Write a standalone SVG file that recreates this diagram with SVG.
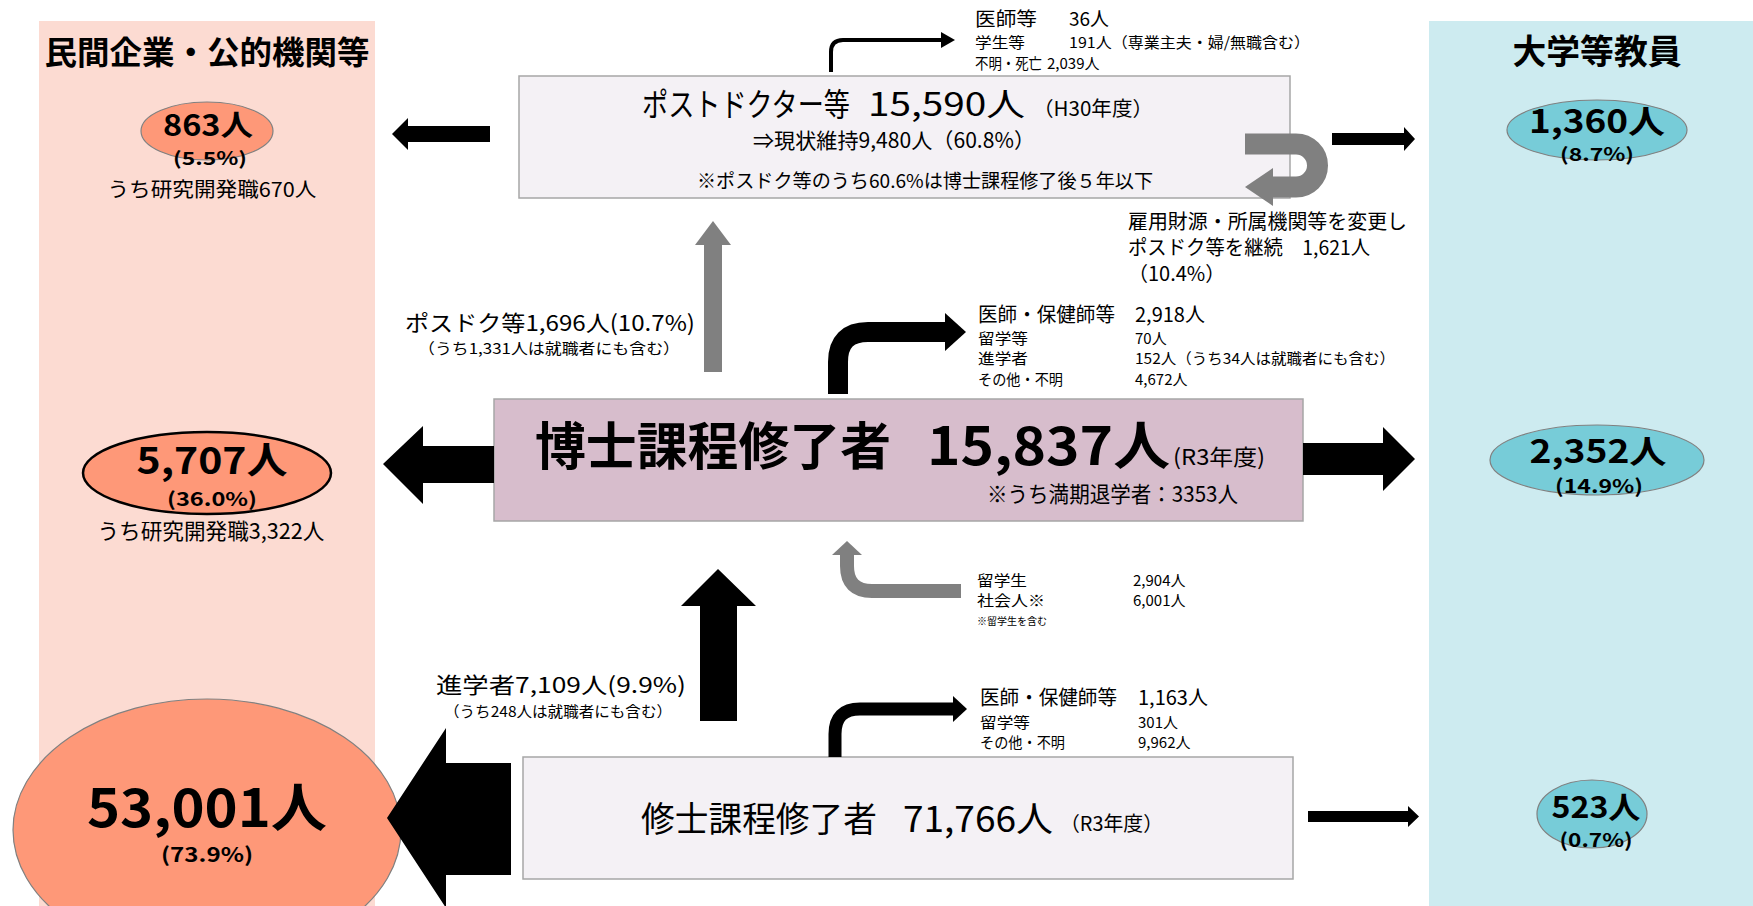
<svg xmlns="http://www.w3.org/2000/svg" width="1753" height="906" viewBox="0 0 1753 906">
<style>
text{font-family:"Noto Sans CJK JP","Noto Sans",sans-serif;fill:#000}
.b{font-weight:bold}
.m{text-anchor:middle}
.box{fill:#f4f1f5;stroke:#a6a6a6;stroke-width:1.5}
.boxd{fill:#d7bdcc;stroke:#a6a6a6;stroke-width:1.5}
.sal{fill:#fe9878;stroke:#808080;stroke-width:1.2}
.teal{fill:#77ccd8;stroke:#808080;stroke-width:1.2}
.blk{fill:#000}
.gry{fill:#808080}
.lnk{fill:none;stroke:#000}
.lng{fill:none;stroke:#808080}
</style>

<g id="bands">
<rect x="39" y="21" width="336" height="885" fill="#fcdbd2"/>
<rect x="1429" y="21" width="324" height="885" fill="#cdebf0"/>
<text class="b m" x="207" y="64" font-size="32" textLength="325" lengthAdjust="spacingAndGlyphs">民間企業・公的機関等</text>
<text class="b m" x="1597" y="64" font-size="34" textLength="169" lengthAdjust="spacingAndGlyphs">大学等教員</text>
</g>

<g id="node-private-postdoc">
<ellipse class="sal" cx="207" cy="131" rx="66" ry="29"/>
<text class="b m" x="208" y="136" font-size="29" textLength="90" lengthAdjust="spacingAndGlyphs">863人</text>
<text class="b m" x="210" y="165" font-size="18" textLength="74" lengthAdjust="spacingAndGlyphs">(5.5%)</text>
<text class="m" x="212" y="197" font-size="20" textLength="209" lengthAdjust="spacingAndGlyphs">うち研究開発職670人</text>
</g>

<g id="node-private-doctor">
<ellipse cx="207" cy="473" rx="124" ry="41" fill="#fe9878" stroke="#000" stroke-width="2.5"/>
<text class="b m" x="212" y="474" font-size="37" textLength="151" lengthAdjust="spacingAndGlyphs">5,707人</text>
<text class="b m" x="212" y="506" font-size="19" textLength="90" lengthAdjust="spacingAndGlyphs">(36.0%)</text>
<text class="m" x="211" y="539" font-size="22" textLength="227" lengthAdjust="spacingAndGlyphs">うち研究開発職3,322人</text>
</g>

<g id="node-private-master">
<ellipse class="sal" cx="207" cy="830" rx="194" ry="131"/>
<text class="b m" x="207" y="827" font-size="52" textLength="240" lengthAdjust="spacingAndGlyphs">53,001人</text>
<text class="b m" x="207" y="862" font-size="20" textLength="92" lengthAdjust="spacingAndGlyphs">(73.9%)</text>
</g>

<g id="node-univ-postdoc">
<ellipse class="teal" cx="1597" cy="130" rx="90" ry="30"/>
<text class="b m" x="1597" y="133" font-size="32" textLength="136" lengthAdjust="spacingAndGlyphs">1,360人</text>
<text class="b m" x="1597" y="161" font-size="18" textLength="74" lengthAdjust="spacingAndGlyphs">(8.7%)</text>
</g>

<g id="node-univ-doctor">
<ellipse class="teal" cx="1597" cy="460" rx="107" ry="35"/>
<text class="b m" x="1598" y="463" font-size="32" textLength="137" lengthAdjust="spacingAndGlyphs">2,352人</text>
<text class="b m" x="1599" y="493" font-size="19" textLength="88" lengthAdjust="spacingAndGlyphs">(14.9%)</text>
</g>

<g id="node-univ-master">
<ellipse class="teal" cx="1592" cy="814" rx="55" ry="34"/>
<text class="b m" x="1596" y="818" font-size="30" textLength="89" lengthAdjust="spacingAndGlyphs">523人</text>
<text class="b m" x="1596" y="847" font-size="19" textLength="73" lengthAdjust="spacingAndGlyphs">(0.7%)</text>
</g>

<g id="node-postdoc">
<rect class="box" x="519" y="76" width="771" height="122"/>
<text x="642" y="116" font-size="32" textLength="208" lengthAdjust="spacingAndGlyphs">ポストドクター等</text>
<text x="868" y="116" font-size="32" textLength="157" lengthAdjust="spacingAndGlyphs">15,590人</text>
<text x="1033" y="116" font-size="20" textLength="120" lengthAdjust="spacingAndGlyphs">（H30年度）</text>
<text x="753" y="148" font-size="21" textLength="282" lengthAdjust="spacingAndGlyphs">⇒現状維持9,480人（60.8%）</text>
<text x="697" y="188" font-size="19" textLength="456" lengthAdjust="spacingAndGlyphs">※ポスドク等のうち60.6%は博士課程修了後５年以下</text>
</g>

<g id="node-postdoc-other">
<text x="975" y="26" font-size="19" textLength="62" lengthAdjust="spacingAndGlyphs">医師等</text>
<text x="1069" y="26" font-size="19">36人</text>
<text x="975" y="48" font-size="15" textLength="50" lengthAdjust="spacingAndGlyphs">学生等</text>
<text x="1069" y="48" font-size="15" textLength="241" lengthAdjust="spacingAndGlyphs">191人（専業主夫・婦/無職含む）</text>
<text x="975" y="69" font-size="15" textLength="67" lengthAdjust="spacingAndGlyphs">不明・死亡</text>
<text x="1047" y="69" font-size="15">2,039人</text>
</g>

<g id="node-postdoc-continue">
<text x="1128" y="229" font-size="20" textLength="279" lengthAdjust="spacingAndGlyphs">雇用財源・所属機関等を変更し</text>
<text x="1128" y="255" font-size="20" textLength="242" lengthAdjust="spacingAndGlyphs">ポスドク等を継続　1,621人</text>
<text x="1128" y="281" font-size="20">（10.4%）</text>
</g>

<g id="node-to-postdoc-label">
<text x="405" y="331" font-size="22" textLength="290" lengthAdjust="spacingAndGlyphs">ポスドク等1,696人(10.7%)</text>
<text x="418" y="354" font-size="15" textLength="262" lengthAdjust="spacingAndGlyphs">（うち1,331人は就職者にも含む）</text>
</g>

<g id="node-doctor-other">
<text x="978" y="322" font-size="20" textLength="137" lengthAdjust="spacingAndGlyphs">医師・保健師等</text>
<text x="1135" y="322" font-size="20">2,918人</text>
<text x="978" y="344" font-size="15" textLength="50" lengthAdjust="spacingAndGlyphs">留学等</text>
<text x="1135" y="344" font-size="15">70人</text>
<text x="978" y="364" font-size="15" textLength="50" lengthAdjust="spacingAndGlyphs">進学者</text>
<text x="1135" y="364" font-size="15" textLength="260" lengthAdjust="spacingAndGlyphs">152人（うち34人は就職者にも含む）</text>
<text x="978" y="385" font-size="15" textLength="85" lengthAdjust="spacingAndGlyphs">その他・不明</text>
<text x="1135" y="385" font-size="15">4,672人</text>
</g>

<g id="node-doctor">
<rect class="boxd" x="494" y="399" width="809" height="122"/>
<text class="b" x="535" y="465" font-size="51" textLength="356" lengthAdjust="spacingAndGlyphs">博士課程修了者</text>
<text class="b" x="927" y="465" font-size="52" textLength="243" lengthAdjust="spacingAndGlyphs">15,837人</text>
<text x="1173" y="465" font-size="22" textLength="92" lengthAdjust="spacingAndGlyphs">(R3年度)</text>
<text x="987" y="502" font-size="22" textLength="251" lengthAdjust="spacingAndGlyphs">※うち満期退学者：3353人</text>
</g>

<g id="node-doctor-entry">
<text x="977" y="586" font-size="15" textLength="50" lengthAdjust="spacingAndGlyphs">留学生</text>
<text x="1133" y="586" font-size="15">2,904人</text>
<text x="977" y="606" font-size="15" textLength="68" lengthAdjust="spacingAndGlyphs">社会人※</text>
<text x="1133" y="606" font-size="15">6,001人</text>
<text x="977" y="625" font-size="10">※留学生を含む</text>
</g>

<g id="node-to-doctor-label">
<text x="436" y="693" font-size="22" textLength="250" lengthAdjust="spacingAndGlyphs">進学者7,109人(9.9%)</text>
<text x="444" y="717" font-size="15" textLength="228" lengthAdjust="spacingAndGlyphs">（うち248人は就職者にも含む）</text>
</g>

<g id="node-master-other">
<text x="980" y="705" font-size="20" textLength="137" lengthAdjust="spacingAndGlyphs">医師・保健師等</text>
<text x="1138" y="705" font-size="20">1,163人</text>
<text x="980" y="728" font-size="15" textLength="50" lengthAdjust="spacingAndGlyphs">留学等</text>
<text x="1138" y="728" font-size="15">301人</text>
<text x="980" y="748" font-size="15" textLength="85" lengthAdjust="spacingAndGlyphs">その他・不明</text>
<text x="1138" y="748" font-size="15">9,962人</text>
</g>

<g id="node-master">
<rect class="box" x="523" y="757" width="770" height="122"/>
<text x="641" y="832" font-size="35" textLength="236" lengthAdjust="spacingAndGlyphs">修士課程修了者</text>
<text x="903" y="832" font-size="35" textLength="150" lengthAdjust="spacingAndGlyphs">71,766人</text>
<text x="1060" y="831" font-size="20" textLength="103" lengthAdjust="spacingAndGlyphs">（R3年度）</text>
</g>

<g id="connectors">
<polygon class="blk" points="392,134 408,118 408,126 490,126 490,142 408,142 408,150"/>
<polygon class="blk" points="1332,133 1404,133 1404,127 1415,139 1404,151 1404,145 1332,145"/>
<path class="lnk" stroke-width="4" d="M831 72 V52 Q831 40 843 40 H943"/>
<polygon class="blk" points="941,32 955,40 941,48"/>
<path class="lng" stroke-width="21" d="M1245 144 H1296 A21.5 21.5 0 0 1 1296 187 H1271"/>
<polygon class="gry" points="1273,168 1273,206 1245,187"/>
<polygon class="gry" points="713,221 731,245 722,245 722,372 704,372 704,245 695,245"/>
<path class="lnk" stroke-width="20" d="M838 394 V362 Q838 332 868 332 H946"/>
<polygon class="blk" points="945,313 966,332 945,351"/>
<polygon class="blk" points="383,464 423,426 423,446 494,446 494,483 423,483 423,504"/>
<polygon class="blk" points="1303,443 1383,443 1383,427 1415,459 1383,491 1383,475 1303,475"/>
<path class="lng" stroke-width="14" d="M961 591 H872 Q847 591 847 566 V554"/>
<polygon class="gry" points="832,555 862,555 847,541"/>
<polygon class="blk" points="718,569 756,606 737,606 737,721 700,721 700,606 681,606"/>
<path class="lnk" stroke-width="13" d="M835 757 V734 Q835 709 860 709 H954"/>
<polygon class="blk" points="953,696 967,709 953,722"/>
<polygon class="blk" points="387,818 446,728 446,763 511,763 511,875 446,875 446,908"/>
<polygon class="blk" points="1308,811 1408,811 1408,806 1419,816.5 1408,827 1408,822 1308,822"/>
</g>
</svg>
